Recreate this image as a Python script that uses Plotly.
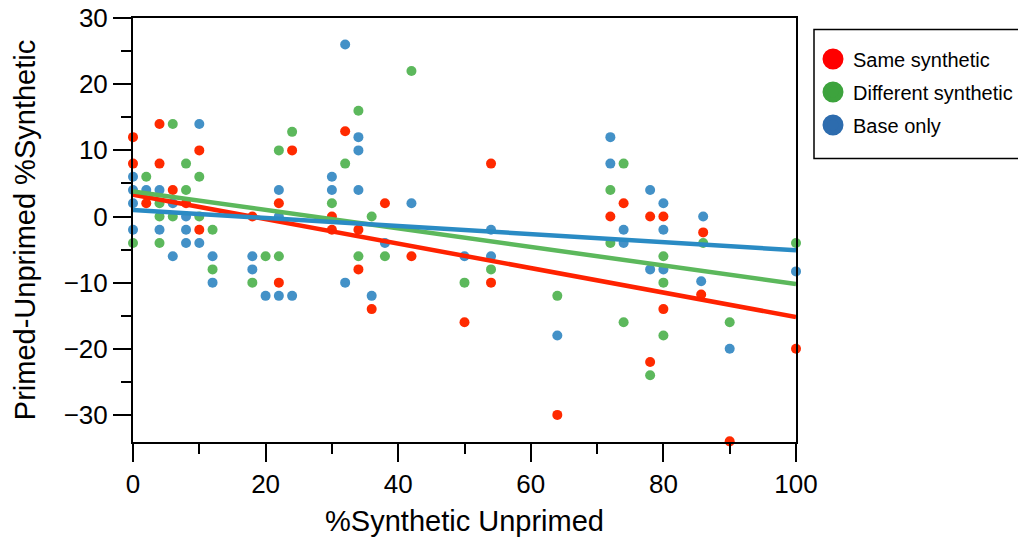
import plotly.graph_objects as go

# points
same_x = [0, 0, 2, 4, 4, 6, 8, 10, 10, 18, 22, 22, 24, 30, 30, 32, 34, 34, 36, 38,
          42, 50, 54, 54, 64, 72, 74, 78, 80, 78, 80, 86, 85.7, 90, 100]
same_y = [12, 8, 2, 14, 8, 4, 2, 10, -2, 0, 2, -10, 10, 0, -2, 12.9, -2, -8, -14, 2,
          -6, -16, 8, -10, -30, 0, 2, 0, 0, -22, -14, -2.4, -11.8, -34, -20]

diff_x = [0, 2, 4, 4, 4, 6, 6, 8, 8, 10, 10, 12, 12, 18, 20, 22, 22, 24, 30, 32,
          34, 34, 36, 38, 42, 50, 54, 64, 72, 72, 74, 74, 78, 80, 80, 80, 86, 90, 100]
diff_y = [-4, 6, 2, 0, -4, 14, 0, 8, 4, 6, 0, -2, -8, -10, -6, 10, -6, 12.8, 2, 8,
          16, -6, 0, -6, 22, -10, -8, -12, 4, -4, 8, -16, -24, -6, -10, -18, -4, -16, -4]

base_x = [0, 0, 0, 0, 2, 4, 4, 6, 6, 8, 8, 8, 10, 10, 12, 12, 18, 18, 20, 22,
          22, 22, 24, 30, 30, 32, 32, 34, 34, 34, 36, 38, 42, 50, 54, 54, 64, 72, 72, 74,
          74, 78, 78, 80, 80, 80, 86, 85.7, 90, 100]
base_y = [6, 4, 2, -2, 4, 4, -2, 2, -6, 0, -2, -4, 14, -4, -6, -10, -6, -8, -12, 4,
          0, -12, -12, 6, 4, 26, -10, 12, 10, 4, -12, -4, 2, -6, -2, -6, -18, 12, 8, -2,
          -4, 4, -8, 2, -2, -8, 0, -9.8, -20, -8.3]

# fitted lines, ends
fit_x = [0, 100]
same_fit = [3.3, -15.2]
diff_fit = [3.8, -10.2]
base_fit = [1.0, -5.1]

names = ['Same synthetic', 'Different synthetic', 'Base only']
dot_colors = ['#ff2a00', '#5cb85c', '#4391c7']
line_colors = ['#ff2200', '#5cb85c', '#2a8bc4']
legend_colors = ['#ff0000', '#3da33d', '#2d6cae']

FONT = 'Liberation Sans, Arial, Helvetica, sans-serif'

fig = go.Figure()
for xs, ys, c in zip([same_x, diff_x, base_x], [same_y, diff_y, base_y], dot_colors):
    fig.add_trace(go.Scatter(x=xs, y=ys, mode='markers', showlegend=False,
                             marker=dict(size=10, color=c), cliponaxis=False,
                             hoverinfo='x+y'))
for ys, c in zip([same_fit, diff_fit, base_fit], line_colors):
    fig.add_trace(go.Scatter(x=fit_x, y=ys, mode='lines', showlegend=False,
                             line=dict(color=c, width=4.5), hoverinfo='skip'))
# legend entries
for i, (n, c) in enumerate(zip(names, legend_colors)):
    fig.add_trace(go.Scatter(x=[None], y=[None], mode='markers', name=n,
                             legendgroup=str(i),
                             marker=dict(size=16, color=c, line=dict(color=c, width=5))))

axis_common = dict(showline=True, linecolor='black', linewidth=2, mirror=True,
                   showgrid=False, zeroline=False, ticks='outside', ticklen=18,
                   tickwidth=2, tickcolor='black', ticklabeloverflow='allow',
                   tickfont=dict(family=FONT, size=26, color='black'))

fig.update_xaxes(range=[0, 100], dtick=20, tick0=0,
                 minor=dict(dtick=10, ticklen=10, tickwidth=2, tickcolor='black', ticks='outside'),
                 title=dict(text='%Synthetic Unprimed', font=dict(family=FONT, size=29, color='black'),
                            standoff=16),
                 **axis_common)
fig.update_yaxes(range=[-34.1, 30.02], dtick=10, tick0=0,
                 minor=dict(dtick=5, ticklen=10, tickwidth=2, tickcolor='black', ticks='outside'),
                 title=dict(text='Primed-Unprimed %Synthetic', font=dict(family=FONT, size=29, color='black'),
                            standoff=20),
                 **axis_common)

# page body adds an 8px offset, so the figure is drawn 8px smaller
fig.update_layout(
    width=1018, height=529,
    margin=dict(l=125, r=230, t=9.5, b=95.3, autoexpand=False),
    plot_bgcolor='white', paper_bgcolor='white',
    font=dict(family=FONT, color='black'),
    legend=dict(x=(813 - 133) / 663, y=(441.7 - 39) / 424.2, xanchor='left', yanchor='top',
                font=dict(family=FONT, size=20, color='black'),
                bgcolor='rgba(0,0,0,0)', borderwidth=0, tracegroupgap=4),
    shapes=[dict(type='rect', xref='paper', yref='paper',
                 x0=(814 - 133) / 663, x1=(1025 - 133) / 663,
                 y0=(441.7 - 158) / 424.2, y1=(441.7 - 29) / 424.2,
                 line=dict(color='black', width=1.5))],
)

fig.write_html('out.html')
